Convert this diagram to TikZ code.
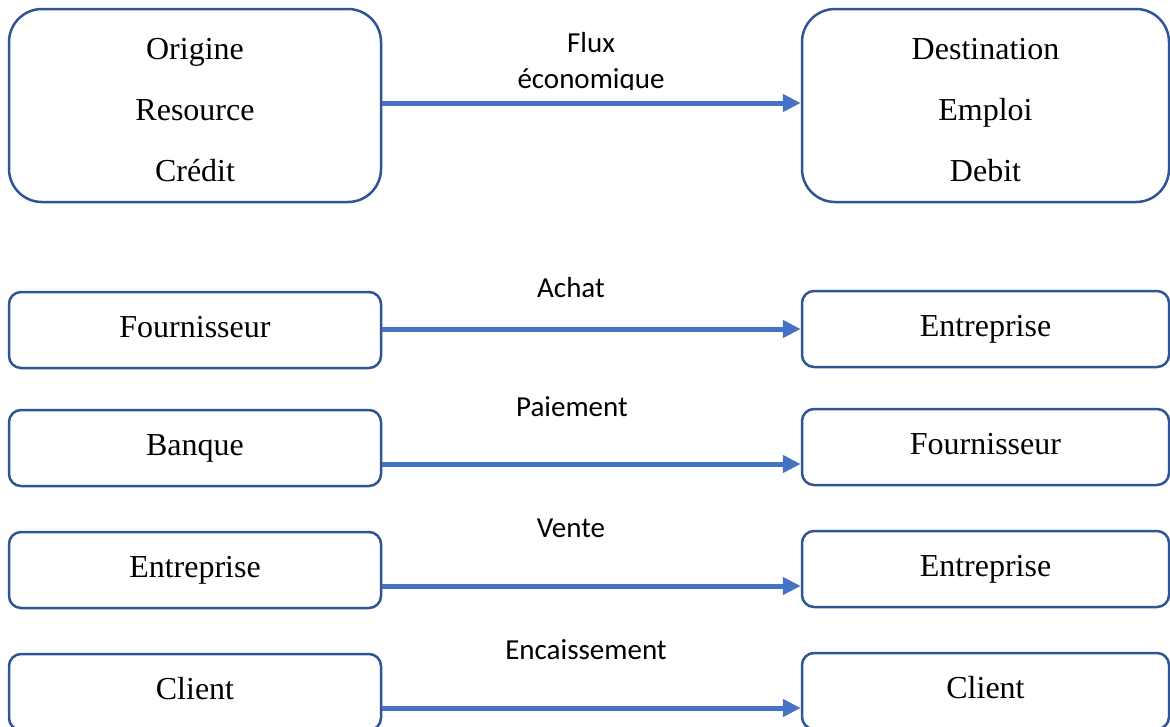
\documentclass[tikz,border=0pt]{standalone}
\usepackage{fontspec}
\setmainfont{Liberation Serif}
\newfontfamily\labelfont{Carlito}
\usetikzlibrary{arrows.meta}

\definecolor{boxline}{HTML}{2F5597}
\definecolor{flowblue}{HTML}{4472C4}

\tikzset{
  x=1pt, y=-1pt,
  bigbox/.style={draw=boxline, line width=2.5pt, rounded corners=33pt,
    minimum height=193pt, inner sep=0pt},
  rowbox/.style={draw=boxline, line width=2.5pt, rounded corners=12pt,
    minimum height=76pt, inner sep=0pt,
    font=\fontsize{32}{38}\selectfont, text height=22pt, text depth=8pt},
  leftbox/.style={rowbox, minimum width=372pt},
  rightbox/.style={rowbox, minimum width=367pt},
  boxtext/.style={align=center, inner sep=0pt,
    font=\fontsize{32}{61}\selectfont},
  flowlabel/.style={anchor=base, inner sep=0pt,
    font=\labelfont\fontsize{29}{36}\selectfont},
  flow/.style={draw=flowblue, line width=5pt,
    -{Triangle[length=18pt,width=17pt]}},
}

\begin{document}
\begin{tikzpicture}
\useasboundingbox (0,0) rectangle (1170,726);

% origin / destination of an economic flow
\node[bigbox, minimum width=372pt] (orig) at (195,105.5) {};
\node[bigbox, minimum width=367pt] (dest) at (985.5,105.5) {};
\node[boxtext] (origtxt) at (195,110) {Origine\\Resource\\Crédit};
\node[boxtext] (desttxt) at (985.5,110) {Destination\\Emploi\\Debit};
\draw[flow] ([yshift=2.5pt]orig.east) -- ([yshift=2.5pt]dest.west);
% the label's text frame cuts off the descenders of its second line
\begin{scope}
  \clip (450,20) rectangle (740,89.5);
  \node[flowlabel] (fluxa) at (591,52) {Flux};
  \node[flowlabel] (fluxb) at (591,88) {économique};
\end{scope}

% examples
\node[leftbox]  (l1) at (195,330)   {Fournisseur};
\node[rightbox] (r1) at (985.5,329) {Entreprise};
\node[leftbox]  (l2) at (195,448)   {Banque};
\node[rightbox] (r2) at (985.5,447) {Fournisseur};
\node[leftbox]  (l3) at (195,570)   {Entreprise};
\node[rightbox] (r3) at (985.5,569) {Entreprise};
\node[leftbox]  (l4) at (195,692)   {Client};
\node[rightbox] (r4) at (985.5,691) {Client};

\draw[flow] ([yshift=1pt]l1.east)   -- ([yshift=1pt]l1.east -| r1.west);
\draw[flow] ([yshift=-16pt]l2.east) -- ([yshift=-16pt]l2.east -| r2.west);
\draw[flow] ([yshift=-16pt]l3.east) -- ([yshift=-16pt]l3.east -| r3.west);
\draw[flow] ([yshift=-16pt]l4.east) -- ([yshift=-16pt]l4.east -| r4.west);

\node[flowlabel] (achat)  at (571,297) {Achat};
\node[flowlabel] (paie)   at (572,416) {Paiement};
\node[flowlabel] (vente)  at (571,537) {Vente};
\node[flowlabel] (encais) at (586,659) {Encaissement};
\end{tikzpicture}
\end{document}
